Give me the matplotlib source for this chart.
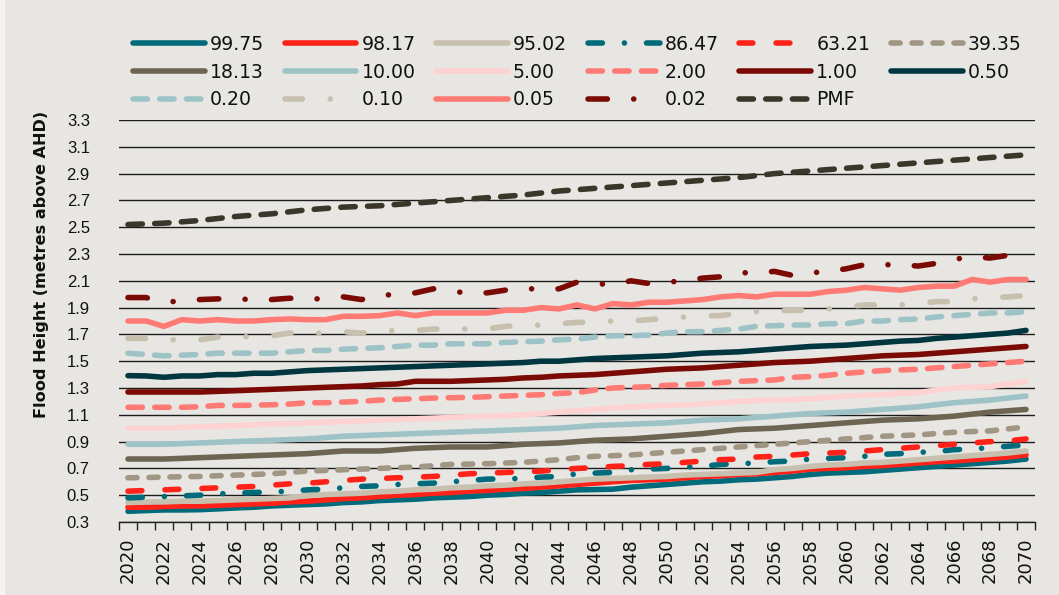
import matplotlib
matplotlib.use("Agg")
import matplotlib.pyplot as plt
from matplotlib.patches import Rectangle
import numpy as np

years = list(range(2020, 2071))

aep_labels = ["99.75", "98.17", "95.02", "86.47", "63.21", "39.35",
              "18.13", "10.00", "5.00", "2.00", "1.00", "0.50",
              "0.20", "0.10", "0.05", "0.02", "PMF"]

s_9975 = [0.380, 0.385, 0.390, 0.390, 0.392, 0.398, 0.405, 0.410, 0.420, 0.425,
          0.430, 0.435, 0.445, 0.450, 0.460, 0.465, 0.470, 0.480, 0.485, 0.490,
          0.500, 0.505, 0.515, 0.520, 0.530, 0.540, 0.542, 0.545, 0.560, 0.570,
          0.580, 0.590, 0.600, 0.605, 0.615, 0.620, 0.630, 0.640, 0.655, 0.665,
          0.670, 0.675, 0.685, 0.695, 0.705, 0.715, 0.725, 0.735, 0.745, 0.755,
          0.770]
s_9817 = [0.410, 0.410, 0.415, 0.420, 0.420, 0.425, 0.430, 0.435, 0.440, 0.450,
          0.455, 0.465, 0.475, 0.480, 0.490, 0.500, 0.505, 0.515, 0.520, 0.530,
          0.535, 0.545, 0.550, 0.560, 0.570, 0.580, 0.590, 0.600, 0.610, 0.615,
          0.620, 0.630, 0.640, 0.645, 0.655, 0.660, 0.670, 0.680, 0.695, 0.700,
          0.705, 0.715, 0.720, 0.730, 0.740, 0.750, 0.755, 0.765, 0.775, 0.785,
          0.800]
s_9502 = [0.445, 0.450, 0.450, 0.455, 0.455, 0.460, 0.465, 0.470, 0.475, 0.480,
          0.500, 0.505, 0.510, 0.515, 0.525, 0.530, 0.540, 0.545, 0.555, 0.560,
          0.570, 0.575, 0.585, 0.590, 0.600, 0.610, 0.620, 0.625, 0.630, 0.635,
          0.640, 0.650, 0.655, 0.660, 0.665, 0.670, 0.690, 0.700, 0.715, 0.725,
          0.730, 0.740, 0.745, 0.755, 0.765, 0.775, 0.785, 0.795, 0.805, 0.815,
          0.830]
s_8647 = [0.480, 0.485, 0.490, 0.495, 0.500, 0.510, 0.515, 0.520, 0.525, 0.530,
          0.540, 0.545, 0.555, 0.565, 0.570, 0.580, 0.585, 0.590, 0.600, 0.610,
          0.620, 0.622, 0.625, 0.635, 0.640, 0.660, 0.665, 0.670, 0.690, 0.695,
          0.700, 0.710, 0.715, 0.730, 0.735, 0.740, 0.750, 0.755, 0.770, 0.775,
          0.780, 0.790, 0.805, 0.810, 0.820, 0.825, 0.840, 0.845, 0.855, 0.865,
          0.875]
s_6321 = [0.530, 0.535, 0.540, 0.545, 0.550, 0.555, 0.560, 0.565, 0.575, 0.585,
          0.590, 0.600, 0.610, 0.620, 0.625, 0.630, 0.635, 0.640, 0.650, 0.660,
          0.665, 0.670, 0.675, 0.680, 0.690, 0.700, 0.705, 0.715, 0.720, 0.730,
          0.735, 0.745, 0.755, 0.765, 0.770, 0.785, 0.790, 0.800, 0.810, 0.815,
          0.820, 0.830, 0.840, 0.850, 0.860, 0.870, 0.880, 0.890, 0.900, 0.905,
          0.920]
s_3935 = [0.630, 0.632, 0.635, 0.638, 0.640, 0.645, 0.650, 0.655, 0.660, 0.670,
          0.680, 0.685, 0.690, 0.695, 0.700, 0.705, 0.710, 0.720, 0.730, 0.732,
          0.735, 0.740, 0.745, 0.755, 0.765, 0.780, 0.790, 0.795, 0.800, 0.810,
          0.820, 0.830, 0.840, 0.850, 0.860, 0.870, 0.880, 0.890, 0.900, 0.910,
          0.920, 0.930, 0.940, 0.945, 0.950, 0.960, 0.970, 0.975, 0.980, 0.995,
          1.010]
s_1813 = [0.770, 0.770, 0.770, 0.775, 0.780, 0.785, 0.790, 0.795, 0.800, 0.805,
          0.810, 0.820, 0.830, 0.830, 0.830, 0.840, 0.850, 0.855, 0.860, 0.860,
          0.860, 0.870, 0.880, 0.885, 0.890, 0.900, 0.910, 0.915, 0.920, 0.930,
          0.940, 0.950, 0.960, 0.975, 0.990, 0.995, 1.000, 1.010, 1.020, 1.030,
          1.040, 1.050, 1.060, 1.065, 1.070, 1.080, 1.090, 1.105, 1.120, 1.130,
          1.140]
s_1000 = [0.880, 0.880, 0.880, 0.885, 0.890, 0.895, 0.900, 0.905, 0.910, 0.915,
          0.920, 0.930, 0.940, 0.945, 0.950, 0.955, 0.960, 0.965, 0.970, 0.975,
          0.980, 0.985, 0.990, 0.995, 1.000, 1.010, 1.020, 1.025, 1.030, 1.035,
          1.040, 1.050, 1.060, 1.065, 1.070, 1.080, 1.090, 1.100, 1.110, 1.115,
          1.120, 1.130, 1.140, 1.150, 1.160, 1.175, 1.190, 1.200, 1.210, 1.225,
          1.240]
s_500 = [1.000, 1.000, 1.000, 1.005, 1.010, 1.015, 1.020, 1.025, 1.030, 1.035,
         1.040, 1.045, 1.050, 1.055, 1.060, 1.065, 1.070, 1.075, 1.080, 1.085,
         1.090, 1.095, 1.100, 1.110, 1.120, 1.130, 1.140, 1.150, 1.160, 1.165,
         1.170, 1.175, 1.180, 1.190, 1.200, 1.205, 1.210, 1.215, 1.220, 1.230,
         1.240, 1.245, 1.250, 1.260, 1.265, 1.285, 1.300, 1.305, 1.310, 1.330,
         1.350]
s_200 = [1.156, 1.156, 1.156, 1.156, 1.160, 1.170, 1.170, 1.172, 1.175, 1.180,
         1.190, 1.190, 1.195, 1.200, 1.210, 1.215, 1.220, 1.225, 1.228, 1.230,
         1.235, 1.240, 1.245, 1.250, 1.260, 1.265, 1.285, 1.300, 1.305, 1.310,
         1.320, 1.325, 1.330, 1.340, 1.350, 1.355, 1.360, 1.380, 1.385, 1.395,
         1.410, 1.420, 1.430, 1.435, 1.440, 1.450, 1.460, 1.470, 1.480, 1.490,
         1.500]
s_100 = [1.270, 1.270, 1.270, 1.270, 1.270, 1.275, 1.280, 1.285, 1.290, 1.295,
         1.300, 1.305, 1.310, 1.315, 1.325, 1.330, 1.350, 1.350, 1.350, 1.355,
         1.360, 1.365, 1.375, 1.380, 1.390, 1.395, 1.400, 1.410, 1.420, 1.430,
         1.440, 1.445, 1.450, 1.460, 1.470, 1.480, 1.490, 1.495, 1.500, 1.510,
         1.520, 1.530, 1.540, 1.545, 1.550, 1.560, 1.570, 1.580, 1.590, 1.600,
         1.610]
s_050 = [1.392, 1.390, 1.380, 1.390, 1.390, 1.400, 1.400, 1.410, 1.410, 1.420,
         1.430, 1.435, 1.440, 1.445, 1.450, 1.455, 1.460, 1.465, 1.470, 1.475,
         1.480, 1.485, 1.490, 1.500, 1.500, 1.510, 1.520, 1.525, 1.530, 1.535,
         1.540, 1.550, 1.560, 1.565, 1.570, 1.580, 1.590, 1.600, 1.610, 1.615,
         1.620, 1.630, 1.640, 1.650, 1.655, 1.670, 1.680, 1.690, 1.700, 1.710,
         1.730]
s_020 = [1.560, 1.550, 1.540, 1.545, 1.550, 1.560, 1.560, 1.560, 1.560, 1.570,
         1.580, 1.580, 1.590, 1.595, 1.600, 1.610, 1.620, 1.620, 1.630, 1.630,
         1.630, 1.640, 1.645, 1.650, 1.660, 1.665, 1.680, 1.690, 1.690, 1.695,
         1.710, 1.720, 1.720, 1.730, 1.740, 1.760, 1.765, 1.770, 1.770, 1.780,
         1.780, 1.800, 1.800, 1.810, 1.815, 1.830, 1.840, 1.850, 1.860, 1.860,
         1.870]
s_010 = [1.670, 1.670, 1.660, 1.660, 1.660, 1.680, 1.680, 1.685, 1.690, 1.710,
         1.700, 1.715, 1.720, 1.710, 1.725, 1.730, 1.730, 1.740, 1.740, 1.740,
         1.740, 1.760, 1.765, 1.770, 1.780, 1.790, 1.790, 1.800, 1.800, 1.810,
         1.820, 1.830, 1.840, 1.840, 1.860, 1.870, 1.875, 1.880, 1.880, 1.890,
         1.905, 1.920, 1.920, 1.920, 1.930, 1.945, 1.945, 1.965, 1.975, 1.980,
         1.990]
s_005 = [1.800, 1.800, 1.760, 1.810, 1.800, 1.810, 1.800, 1.800, 1.810, 1.815,
         1.810, 1.810, 1.835, 1.835, 1.840, 1.860, 1.840, 1.860, 1.860, 1.860,
         1.860, 1.880, 1.880, 1.900, 1.890, 1.920, 1.890, 1.930, 1.920, 1.940,
         1.940, 1.950, 1.960, 1.980, 1.990, 1.980, 2.000, 2.000, 2.000, 2.020,
         2.030, 2.050, 2.040, 2.030, 2.050, 2.060, 2.060, 2.110, 2.090, 2.110,
         2.110]
s_002 = [1.975, 1.975, 1.940, 1.950, 1.960, 1.965, 1.965, 1.960, 1.960, 1.970,
         1.960, 1.970, 1.980, 1.960, 1.990, 2.000, 2.010, 2.040, 2.020, 2.010,
         2.010, 2.030, 2.040, 2.040, 2.040, 2.090, 2.080, 2.070, 2.100, 2.080,
         2.090, 2.100, 2.120, 2.130, 2.160, 2.160, 2.170, 2.140, 2.160, 2.170,
         2.190, 2.220, 2.220, 2.220, 2.210, 2.230, 2.260, 2.280, 2.270, 2.290,
         2.280]
s_pmf = [2.520, 2.525, 2.530, 2.540, 2.550, 2.565, 2.580, 2.590, 2.600, 2.615,
         2.630, 2.640, 2.650, 2.655, 2.660, 2.670, 2.680, 2.690, 2.700, 2.710,
         2.720, 2.730, 2.740, 2.755, 2.770, 2.780, 2.790, 2.800, 2.810, 2.820,
         2.830, 2.840, 2.850, 2.860, 2.870, 2.885, 2.900, 2.910, 2.920, 2.930,
         2.940, 2.950, 2.960, 2.970, 2.980, 2.990, 3.000, 3.010, 3.020, 3.030,
         3.040]

series = [s_9975, s_9817, s_9502, s_8647, s_6321, s_3935, s_1813, s_1000, s_500,
          s_200, s_100, s_050, s_020, s_010, s_005, s_002, s_pmf]

TEAL = "#006B7A"
RED = "#FF2218"
BEIGE = "#C8C0AE"
GREYBROWN = "#A19583"
DARKBROWN = "#6D6552"
LIGHTBLUE = "#9DC3C7"
PINK = "#FFD2D2"
SALMON = "#FF7A74"
DARKRED = "#7B0A04"
DARKTEAL = "#00363F"
PMFC = "#3A3629"

LW = 4.0  # points


def pat(*px):
    # dash pattern given in pixels, converted to linewidth units
    return tuple(p * 0.72 / LW for p in px)


SOLID = None
DASH = pat(14.4, 12.3)
SHORTDASH = pat(9.1, 11.9)
LONGDASH = pat(13.9, 23.1)
DASHDOT_A = pat(14.4, 22.0, 0.1, 22.0)
DASHDOT_B = pat(17.4, 27.8, 0.1, 27.8)
DASHDOT_C = pat(19.4, 26.3, 0.1, 26.3)

styles = [
    (TEAL, SOLID), (RED, SOLID), (BEIGE, SOLID), (TEAL, DASHDOT_A),
    (RED, LONGDASH), (GREYBROWN, SHORTDASH), (DARKBROWN, SOLID),
    (LIGHTBLUE, SOLID), (PINK, SOLID), (SALMON, DASH), (DARKRED, SOLID),
    (DARKTEAL, SOLID), (LIGHTBLUE, DASH), (BEIGE, DASHDOT_B), (SALMON, SOLID),
    (DARKRED, DASHDOT_C), (PMFC, DASH),
]

BG = "#E8E6E2"
W, H = 1059, 595
fig = plt.figure(figsize=(W / 100, H / 100), dpi=100, facecolor=BG)
fig.patches.append(Rectangle((0, 0), 5 / W, 1, transform=fig.transFigure,
                             facecolor="#F3F2F0", edgecolor="none", zorder=0))
ax = fig.add_axes([119 / W, 1 - 522 / H, (1035 - 119) / W, (522 - 120) / H])
ax.set_facecolor(BG)

x = np.arange(len(years))
handles = []
for vals, lab, (col, dash) in zip(series, aep_labels, styles):
    kw = dict(color=col, lw=LW, solid_capstyle="round", dash_capstyle="round",
              solid_joinstyle="round", dash_joinstyle="round", label=lab)
    if dash is not None:
        kw["dashes"] = dash
    (ln,) = ax.plot(x, vals, **kw)
    handles.append(ln)

ax.set_xlim(-0.5, len(years) - 0.5)
ax.set_ylim(0.3, 3.3)
yt = np.round(np.arange(0.3, 3.31, 0.2), 1)
ax.set_yticks(yt)
ax.set_yticklabels([f"{v:.1f}" for v in yt], fontfamily=["Liberation Sans", "DejaVu Sans"])
ax.yaxis.grid(True, color="#1c1c1c", lw=1.0)
ax.set_axisbelow(True)
ax.tick_params(axis="y", length=0, pad=21, labelsize=12, labelcolor="#111111")

ax.set_xticks(np.arange(-0.5, len(years), 1.0))
ax.set_xticklabels([])
ax.tick_params(axis="x", which="major", length=6, width=1.0, color="#222222", direction="out")
ax.set_xticks(x[::2], minor=True)
ax.set_xticklabels([str(y) for y in years[::2]], minor=True, rotation=90)
ax.tick_params(axis="x", which="minor", length=0, pad=11.5, labelsize=13, labelcolor="#111111")

for s in ["top", "right", "left"]:
    ax.spines[s].set_visible(False)
ax.spines["bottom"].set_color("#222222")
ax.spines["bottom"].set_linewidth(1.0)

fig.text(42 / W, 1 - 264 / H, "Flood Height (metres above AHD)", rotation=90,
         ha="center", va="center", fontsize=11.6, fontweight="bold", color="#111111")

order = [0, 6, 12, 1, 7, 13, 2, 8, 14, 3, 9, 15, 4, 10, 16, 5, 11]
leg = fig.legend([handles[i] for i in order], [aep_labels[i] for i in order],
                 ncol=6, loc="upper left", bbox_to_anchor=(133 / W, 1 - 35 / H),
                 frameon=False, fontsize=13.6, handlelength=3.8, handletextpad=0.26,
                 columnspacing=1.1, labelspacing=0.46, borderpad=0, borderaxespad=0)
for t in leg.get_texts():
    t.set_color("#111111")

fig.savefig("out.png", dpi=100, facecolor=BG)
